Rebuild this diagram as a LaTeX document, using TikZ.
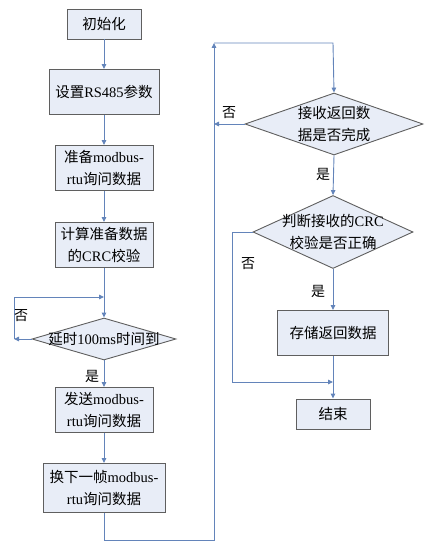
\documentclass[tikz,border=0pt]{standalone}
\usepackage{fontspec}
\setmainfont{Liberation Serif}
\newfontfamily\cjk{Noto Sans CJK SC}
\newcommand\zh[1]{{\cjk #1}}
\usetikzlibrary{shapes.geometric,arrows.meta}
\definecolor{boxfill}{HTML}{E8EDF7}
\definecolor{boxline}{HTML}{5F5F5F}
\definecolor{conn}{HTML}{6384BA}
\tikzset{
  stepbox/.style={draw=boxline,fill=boxfill,line width=0.9pt,rectangle,inner sep=0pt,align=center,font=\fontsize{14.5}{22}\selectfont},
  dia/.style={draw=boxline,fill=boxfill,line width=0.9pt,diamond,inner sep=0pt},
  dtext/.style={align=center,font=\fontsize{14.5}{22}\selectfont},
  arr/.style={draw=conn,line width=0.9pt,-{Triangle[length=5pt,width=4.5pt]}},
  ln/.style={draw=conn,line width=0.9pt},
  lab/.style={font=\fontsize{14}{16}\selectfont,inner sep=0pt}
}
\begin{document}
\begin{tikzpicture}[x=1pt,y=-1pt]
\useasboundingbox (0,0) rectangle (433,551);
% left column
\node[stepbox,minimum width=74,minimum height=30] (b1) at (104,24) {\zh{初始化}};
\node[stepbox,minimum width=110,minimum height=45] (b2) at (104,92) {\zh{设置}RS485\zh{参数}};
\node[stepbox,minimum width=98,minimum height=45] (b3) at (104,168) {\zh{准备}modbus-\\rtu\zh{询问数据}};
\node[stepbox,minimum width=98,minimum height=45] (b4) at (104,245) {\zh{计算准备数据}\\\zh{的}CRC\zh{校验}};
\node[dia,minimum width=144,minimum height=42] (d1) at (104,339) {};
\node[dtext] (t1) at (d1.center) {\zh{延时}100ms\zh{时间到}};
\node[stepbox,minimum width=98,minimum height=45] (b5) at (104,410) {\zh{发送}modbus-\\rtu\zh{询问数据}};
\node[stepbox,minimum width=122,minimum height=49] (b6) at (104,488) {\zh{换下一帧}modbus-\\rtu\zh{询问数据}};
% right column
\node[dia,minimum width=178,minimum height=62] (d2) at (334,124) {};
\node[dtext] (t2) at (d2.center) {\zh{接收返回数}\\\zh{据是否完成}};
\node[dia,minimum width=160,minimum height=73] (d3) at (333,232) {};
\node[dtext] (t3) at (d3.center) {\zh{判断接收的}CRC\\\zh{校验是否正确}};
\node[stepbox,minimum width=111,minimum height=45] (b7) at (333,333) {\zh{存储返回数据}};
\node[stepbox,minimum width=74,minimum height=30] (b8) at (333,414) {\zh{结束}};
% coordinates
\coordinate (l1) at (14,339);
\coordinate (l2) at (14,297);
\coordinate (l3) at (104,297);
\coordinate (m1) at (104,540);
\coordinate (m2) at (214,540);
\coordinate (m3) at (214,43);
\coordinate (m4) at (333,43);
\coordinate (r1) at (214,124);
\coordinate (c1) at (232,232);
\coordinate (c2) at (232,382);
\coordinate (c3) at (333,382);
% connectors
\draw[arr] (b1) -- (b2);
\draw[arr] (b2) -- (b3);
\draw[arr] (b3) -- (b4);
\draw[arr] (b4) -- (d1.north);
\draw[arr] (d1.west) -- (l1);
\draw[arr] (l1) -- (l2) -- (l3);
\draw[arr] (d1.south) -- (b5);
\draw[arr] (b5) -- (b6);
\draw[arr] (b6.south) -- (m1) -- (m2) -- (m3);
\draw[arr] (m3) -- (m4) -- (d2.north);
\draw[arr] (d2.west) -- (r1);
\draw[arr] (d2.south) -- (d3.north);
\draw[arr] (d3.south) -- (b7.north);
\draw[arr] (d3.west) -- (c1) -- (c2) -- (c3);
\draw[arr] (b7.south) -- (b8.north);
% labels
\node[lab] (n1) at (21,316) {\zh{否}};
\node[lab] (y1) at (92,376) {\zh{是}};
\node[lab] (n2) at (229,113) {\zh{否}};
\node[lab] (y2) at (323,174) {\zh{是}};
\node[lab] (n3) at (248,264) {\zh{否}};
\node[lab] (y3) at (318,291) {\zh{是}};
\end{tikzpicture}
\end{document}
